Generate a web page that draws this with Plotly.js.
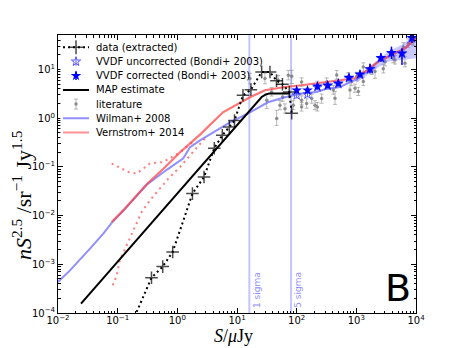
<!DOCTYPE html>
<html><head><meta charset="utf-8">
<script src="https://cdn.plot.ly/plotly-3.0.1.min.js"></script>
<style>html,body{margin:0;padding:0;background:#fff}</style>
</head><body><div id="chart" style="width:463px;height:348px"></div>
<script>
// ---- data ----
const dataX = [0.208, 0.369, 0.569, 0.836, 1.79, 2.8, 4.16, 5.67, 7.43, 9.08, 12.6, 17.1, 25.9, 35.7, 45.9, 57.8, 75.2, 82.5];
const dataY = [1.05e-4, 5.3e-4, 8.97e-4, 1.79e-3, 0.0283, 0.062, 0.241, 0.446, 0.659, 0.893, 2.95, 3.83, 8.9, 8.9, 5.9, 4.97, 3.45, 1.26];

const vvdfX = [100, 152, 223, 331, 499, 753, 1151, 1694, 2588, 3882, 5821, 8570];
const vvdfCorrY = [3.74, 3.74, 4.52, 4.74, 5.21, 6.82, 7.96, 10.3, 17.4, 22.0, 21.5, 44.8];
const vvdfCorrErrUp = [0.5, 0.5, 0.6, 0.6, 0.6, 0.8, 1.0, 2.8, 4.0, 7.5, 5.7, 6.0];
const vvdfCorrErrDown = [0.5, 0.5, 0.6, 0.6, 0.6, 0.8, 1.0, 2.0, 3.0, 5.6, 9.1, 10.0];
const vvdfUncY = [2.95, 3.09, 4.3, 4.6, 5.0, 6.6, 7.7, 10.0, 17.0, 21.5, 21.0, 44.0];
const vvdfUncErr = [0.4, 0.4, 0.5, 0.5, 0.5, 0.7, 0.9, 1.5, 2.5, 4.0, 4.0, 5.0];

const mapX = [0.0243, 25.9, 30, 34.6, 78];
const mapY = [1.56e-4, 2.72, 3.05, 3.2, 3.2];

const litX = [16.5, 29.4, 31.5, 46.2, 38.1, 49.2, 52.5, 58.3, 63.7, 72.4, 82.6, 87.8, 121, 121, 121, 147, 179, 203, 222, 222, 262, 318, 411, 439, 469, 733, 783, 836, 949, 1014, 1079, 1309, 1309, 1807, 2056, 2831, 3020, 4159, 4446, 6124, 6531, 7430, 8472, 8995];
const litY = [6.5, 6.5, 2.33, 0.98, 3.45, 6.0, 1.84, 2.72, 1.57, 7.6, 7.25, 1.84, 5.53, 1.70, 2.33, 2.0, 2.53, 1.84, 1.70, 4.74, 2.53, 5.53, 3.8, 2.56, 7.71, 7.01, 3.8, 5.65, 4.11, 7.15, 3.52, 5.65, 11.2, 9.6, 9.06, 10.4, 14.5, 16.7, 15.7, 29.0, 13.4, 34.5, 39.8, 37.4];
const litErrUp = [1.9, 1.9, 0.87, 0.47, 0.8, 1.5, 0.45, 0.6, 0.4, 2.0, 2.35, 0.45, 1.2, 0.4, 0.55, 0.5, 0.6, 0.45, 0.4, 1.0, 0.6, 1.2, 0.9, 0.96, 1.8, 1.6, 1.85, 1.3, 0.9, 1.6, 0.8, 1.3, 2.5, 2.2, 2.2, 2.4, 3.3, 3.8, 3.6, 6.5, 4.8, 7.8, 9.0, 8.5];
const litErrDown = [1.4, 1.4, 0.76, 0.27, 0.6, 1.1, 0.35, 0.5, 0.3, 1.5, 2.1, 0.35, 1.0, 0.3, 0.45, 0.4, 0.5, 0.35, 0.3, 0.8, 0.5, 1.0, 0.7, 0.64, 1.4, 1.3, 1.24, 1.0, 0.7, 1.3, 0.6, 1.0, 2.0, 1.7, 2.5, 1.9, 2.6, 3.0, 2.8, 5.0, 2.1, 6.0, 7.0, 6.5];

const wilX = [0.01, 0.0159, 0.0344, 0.0574, 0.0794, 0.124, 0.307, 0.664, 1.26, 1.63, 2.40, 3.53, 7.63, 16.5, 33.0, 63.7, 121, 216, 298, 532, 1079, 1500, 2333, 3917, 6531, 10000];
const wilY = [4.34e-4, 7.5e-4, 2.1e-3, 4.27e-3, 7.1e-3, 0.0126, 0.0429, 0.0871, 0.150, 0.253, 0.350, 0.466, 0.824, 1.32, 2.12, 2.69, 3.20, 3.45, 3.92, 4.37, 6.59, 9.06, 14.5, 19.9, 27.2, 45];
const wilBandX = [1000, 1500, 2300, 3500, 5500, 10000];
const wilBandLow = [5.3, 7.5, 11, 14.5, 15.5, 17];
const wilBandHigh = [6.8, 10, 16, 24, 31, 50];

const verX = [0.0794, 0.124, 0.307, 0.621, 1.11, 1.63, 2.40, 5.82, 11.2, 16.5, 29.4, 63.7, 121, 298, 532, 949, 1396, 2333, 3917, 6531, 10000];
const verY = [7.4e-3, 0.0128, 0.0439, 0.098, 0.2, 0.3, 0.46, 1.32, 2.02, 2.69, 3.74, 4.37, 4.74, 5.46, 5.86, 6.59, 9.06, 14.5, 19.9, 27.2, 44];
const verUpX = [0.0794, 0.151, 0.208, 0.348, 0.582, 1.11, 1.85];
const verUpY = [0.117, 0.0785, 0.0728, 0.117, 0.126, 0.2, 0.33];
const verLoX = [0.0826, 0.0964, 0.109, 0.142, 0.183, 0.253, 0.348, 0.48, 0.706, 1.11, 1.74, 2.91];
const verLoY = [3.7e-4, 5.9e-4, 1.21e-3, 2.45e-3, 4.99e-3, 0.0119, 0.0206, 0.0331, 0.0575, 0.0995, 0.1875, 0.386];

const sigma1 = 16.1, sigma5 = 80.5;
const legendLabels = ["data (extracted)", "VVDF uncorrected (Bondi+ 2003)", "VVDF corrected (Bondi+ 2003)", "MAP estimate", "literature", "Wilman+ 2008", "Vernstrom+ 2014"];
const xTickExp = [-2, -1, 0, 1, 2, 3, 4];
const yTickExp = [-4, -3, -2, -1, 0, 1];

// ---- styles ----
const C_WIL = 'rgba(95,95,255,0.7)';
const C_VER = 'rgba(255,70,70,0.75)';
const C_GREY = 'rgba(130,130,130,0.55)';
const C_UNC = 'rgb(90,90,255)';
const C_COR = 'rgb(0,0,255)';

const traces = [];
traces.push({x: litX, y: litY, mode: 'markers', type: 'scatter', showlegend: false,
  marker: {color: 'rgba(120,120,120,0.8)', size: 3.5},
  error_y: {type: 'data', symmetric: false, array: litErrUp, arrayminus: litErrDown, color: C_GREY, thickness: 1, width: 2}});
traces.push({x: wilBandX, y: wilBandLow, mode: 'lines', line: {width: 0, color: C_WIL}, showlegend: false});
traces.push({x: wilBandX, y: wilBandHigh, mode: 'lines', line: {width: 0, color: C_WIL}, fill: 'tonexty', fillcolor: 'rgba(100,100,255,0.35)', showlegend: false});
traces.push({x: wilX, y: wilY, mode: 'lines', line: {color: C_WIL, width: 2}, showlegend: false});
traces.push({x: verUpX, y: verUpY, mode: 'lines', line: {color: 'rgba(255,80,80,0.75)', width: 2, dash: '2px,4px'}, showlegend: false});
traces.push({x: verLoX, y: verLoY, mode: 'lines', line: {color: 'rgba(255,80,80,0.75)', width: 2, dash: '2px,4px'}, showlegend: false});
traces.push({x: verX, y: verY, mode: 'lines', line: {color: C_VER, width: 2.2}, showlegend: false});
traces.push({x: mapX, y: mapY, mode: 'lines', line: {color: 'black', width: 2}, showlegend: false});
traces.push({x: vvdfX, y: vvdfUncY, mode: 'markers', showlegend: false,
  marker: {symbol: 'star-open', size: 7, color: C_UNC, line: {width: 1, color: C_UNC}},
  error_y: {type: 'data', array: vvdfUncErr, color: C_UNC, thickness: 1, width: 0}});
traces.push({x: vvdfX, y: vvdfCorrY, mode: 'markers', showlegend: false,
  marker: {symbol: 'star', size: 8, color: C_COR},
  error_y: {type: 'data', symmetric: false, array: vvdfCorrErrUp, arrayminus: vvdfCorrErrDown, color: C_COR, thickness: 1.5, width: 0}});
traces.push({x: dataX, y: dataY, mode: 'lines+markers', showlegend: false,
  line: {color: 'black', width: 2, dash: '2px,3px'},
  marker: {symbol: 'cross-thin', size: dataX.map((v, i) => i === 0 ? 0 : 9), color: 'black', line: {width: 1.5, color: 'black'}}});

// ---- manual legend keys on an overlay axis pair ----
const row = i => 6 - i;
const lk = {xaxis: 'x2', yaxis: 'y2', showlegend: false, cliponaxis: false, hoverinfo: 'skip'};
traces.push(Object.assign({x: [0, 0.5, 1], y: [row(0), row(0), row(0)], mode: 'lines+markers',
  line: {color: 'black', width: 2, dash: '2px,3px'},
  marker: {symbol: 'cross-thin', size: [0, 10, 0], color: 'black', line: {width: 1.5, color: 'black'}}}, lk));
traces.push(Object.assign({x: [0.5], y: [row(1)], mode: 'markers',
  marker: {symbol: 'star-open', size: 7, color: C_UNC, line: {width: 1, color: C_UNC}},
  error_y: {type: 'data', array: [0.3], color: C_UNC, thickness: 1, width: 0}}, lk));
traces.push(Object.assign({x: [0.5], y: [row(2)], mode: 'markers',
  marker: {symbol: 'star', size: 8, color: C_COR},
  error_y: {type: 'data', array: [0.3], color: C_COR, thickness: 1.5, width: 0}}, lk));
traces.push(Object.assign({x: [0, 1], y: [row(3), row(3)], mode: 'lines', line: {color: 'black', width: 2}}, lk));
traces.push(Object.assign({x: [0.5], y: [row(4)], mode: 'markers', marker: {color: 'rgba(120,120,120,0.8)', size: 3.5},
  error_y: {type: 'data', array: [0.35], color: C_GREY, thickness: 1, width: 2}}, lk));
traces.push(Object.assign({x: [0, 1], y: [row(5), row(5)], mode: 'lines', line: {color: C_WIL, width: 2}}, lk));
traces.push(Object.assign({x: [0, 1], y: [row(6), row(6)], mode: 'lines', line: {color: 'rgba(255,100,100,0.7)', width: 2}}, lk));

// minor tick positions: 2..9 within each decade
function minorVals(lo, hi) {
  const v = [];
  for (let e = lo; e < hi; e++) for (let m = 2; m <= 9; m++) v.push(m * Math.pow(10, e));
  return v;
}
const powLabel = e => '10<sup>' + (e < 0 ? '\u2212' + (-e) : e) + '</sup>';

const tickFont = {family: 'DejaVu Sans', size: 10, color: 'black'};
const axisCommon = {
  type: 'log', tickmode: 'array',
  ticks: 'inside', ticklen: 5, tickwidth: 1, tickcolor: 'black',
  showline: true, linecolor: 'black', linewidth: 1, mirror: 'ticks',
  showgrid: false, zeroline: false, tickfont: tickFont
};

const annotations = legendLabels.map((t, i) => ({
  text: t, xref: 'paper', x: 0.1006, xanchor: 'left', yref: 'y2', y: row(i), yanchor: 'middle',
  showarrow: false, font: {family: 'DejaVu Sans', size: 10, color: 'black'}
}));
annotations.push({text: '1 sigma', textangle: -90, xref: 'x', x: Math.log10(sigma1), xanchor: 'left', xshift: 0,
  yref: 'paper', y: 0.012, yanchor: 'bottom', showarrow: false, font: {family: 'DejaVu Sans', size: 9, color: 'rgba(120,120,255,0.85)'}});
annotations.push({text: '5 sigma', textangle: -90, xref: 'x', x: Math.log10(sigma5), xanchor: 'left', xshift: 0,
  yref: 'paper', y: 0.012, yanchor: 'bottom', showarrow: false, font: {family: 'DejaVu Sans', size: 9, color: 'rgba(120,120,255,0.85)'}});
annotations.push({text: 'B', xref: 'paper', x: 0.992, xanchor: 'right', yref: 'paper', y: 0.005, yanchor: 'bottom',
  showarrow: false, font: {family: 'DejaVu Sans', size: 38, color: 'black'}});
annotations.push({text: '<i>nS</i><sup>2.5</sup> /sr<sup>−1</sup> Jy<sup>1.5</sup>', textangle: -90,
  xref: 'paper', x: -0.1006, xanchor: 'center', yref: 'paper', y: 0.424, yanchor: 'middle',
  showarrow: false, font: {family: 'Liberation Serif', size: 22, color: 'black'}});
annotations.push({text: '<i>S</i>/<i>μ</i>Jy', xref: 'paper', x: 0.49, xanchor: 'center', yref: 'paper', y: -0.124, yanchor: 'bottom',
  borderpad: 0, showarrow: false, font: {family: 'Liberation Serif', size: 18, color: 'black'}});

const layout = {
  width: 463, height: 348,
  margin: {l: 58, r: 47, t: 35, b: 35},
  paper_bgcolor: 'white', plot_bgcolor: 'white',
  showlegend: false,
  xaxis: Object.assign({}, axisCommon, {range: [-2, 4], ticklabelstandoff: -2,
    tickvals: xTickExp.map(e => Math.pow(10, e)), ticktext: xTickExp.map(powLabel),
    minor: {tickmode: 'array', tickvals: minorVals(-2, 4), ticks: 'inside', ticklen: 2.5, tickcolor: 'black', showgrid: false}}),
  yaxis: Object.assign({}, axisCommon, {range: [-4, 1.708],
    tickvals: yTickExp.map(e => Math.pow(10, e)), ticktext: yTickExp.map(powLabel),
    minor: {tickmode: 'array', tickvals: minorVals(-4, 2), ticks: 'inside', ticklen: 2.5, tickcolor: 'black', showgrid: false}}),
  xaxis2: {domain: [0.0067, 0.0939], range: [-0.1, 1.1], visible: false, anchor: 'y2', fixedrange: true},
  yaxis2: {domain: [0.624, 0.981], range: [-0.5, 6.5], visible: false, anchor: 'x2', fixedrange: true},
  shapes: [
    {type: 'line', xref: 'x', yref: 'paper', x0: sigma1, x1: sigma1, y0: 0, y1: 1, layer: 'below', line: {color: 'rgba(140,140,255,0.5)', width: 2}},
    {type: 'line', xref: 'x', yref: 'paper', x0: sigma5, x1: sigma5, y0: 0, y1: 1, layer: 'below', line: {color: 'rgba(140,140,255,0.5)', width: 2}}
  ],
  annotations: annotations
};

Plotly.newPlot('chart', traces, layout, {displayModeBar: false, staticPlot: true});
</script>
</body></html>
